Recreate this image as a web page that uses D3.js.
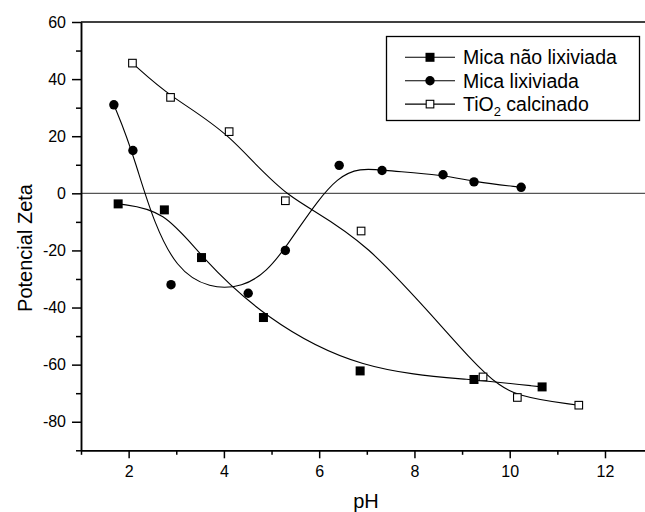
<!DOCTYPE html>
<html>
<head>
<meta charset="utf-8">
<script src="https://cdn.jsdelivr.net/npm/d3@7"></script>
<style>
  body { margin: 0; background: #fff; }
  text { font-family: "Liberation Sans", Arial, sans-serif; fill: #000; }
</style>
</head>
<body>
<div id="chart"></div>
<script>
// pH readings and zeta potential per sample
const naoLixPH   = [1.78, 2.75, 3.53, 4.83, 6.86, 9.25, 10.68];
const naoLixZeta = [-3.7, -5.8, -22.5, -43.5, -62.2, -65.2, -67.8];

const lixPH   = [1.69, 2.09, 2.89, 4.51, 5.29, 6.42, 7.32, 8.60, 9.25, 10.24];
const lixZeta = [31.0, 15.0, -32.0, -35.0, -20.0, 9.8, 8.0, 6.5, 4.0, 2.1];

const tioPH   = [2.08, 2.88, 4.11, 5.29, 6.88, 9.44, 10.16, 11.45];
const tioZeta = [45.6, 33.6, 21.6, -2.6, -13.2, -64.3, -71.5, -74.2];

const seriesNames = ["Mica não lixiviada", "Mica lixiviada", "TiO2 calcinado"];
const xMajor = [2, 4, 6, 8, 10, 12];
const xMinor = [1, 3, 5, 7, 9, 11];
const yMajor = [-80, -60, -40, -20, 0, 20, 40, 60];
const yMinor = [-90, -70, -50, -30, -10, 10, 30, 50];

const W = 645, H = 512;
const plotLeft = 81, plotTop = 22, plotBottom = 450.3;

const svg = d3.select("#chart").append("svg")
    .attr("width", W)
    .attr("height", H);

const x = d3.scaleLinear().domain([1, 12.84]).range([plotLeft, W]);
const y = d3.scaleLinear().domain([-90, 60]).range([plotBottom, plotTop]);

// zero line
svg.append("line")
    .attr("x1", plotLeft).attr("x2", W)
    .attr("y1", y(0)).attr("y2", y(0))
    .attr("stroke", "#555").attr("stroke-width", 1.2);

// top frame
svg.append("line")
    .attr("x1", plotLeft).attr("x2", W)
    .attr("y1", plotTop).attr("y2", plotTop)
    .attr("stroke", "#000").attr("stroke-width", 1.5);

function styleAxis(g) {
    g.select(".domain").attr("stroke-width", 1.5);
    g.selectAll(".tick line").attr("stroke-width", 1.5);
    g.selectAll(".tick text")
        .style("font-family", '"Liberation Sans", Arial, sans-serif')
        .style("font-size", "16px");
}

// plain hyphen for negatives, like the original
const fmt = d => String(d);

svg.append("g")
    .attr("transform", `translate(0,${plotBottom})`)
    .call(d3.axisBottom(x).tickValues(xMinor).tickFormat("").tickSize(4.5).tickSizeOuter(0))
    .call(styleAxis);
svg.append("g")
    .attr("transform", `translate(0,${plotBottom})`)
    .call(d3.axisBottom(x).tickValues(xMajor).tickFormat(fmt).tickSize(8).tickPadding(7).tickSizeOuter(0))
    .call(styleAxis);

svg.append("g")
    .attr("transform", `translate(${plotLeft},0)`)
    .call(d3.axisLeft(y).tickValues(yMinor).tickFormat("").tickSize(5).tickSizeOuter(0))
    .call(styleAxis);
svg.append("g")
    .attr("transform", `translate(${plotLeft},0)`)
    .call(d3.axisLeft(y).tickValues(yMajor).tickFormat(fmt).tickSize(9).tickPadding(6).tickSizeOuter(0))
    .call(styleAxis);

// axis titles
svg.append("text")
    .attr("x", 366).attr("y", 508)
    .attr("text-anchor", "middle")
    .style("font-size", "20px")
    .text("pH");

svg.append("text")
    .attr("transform", "translate(32,248) rotate(-90)")
    .attr("text-anchor", "middle")
    .style("font-size", "20px")
    .text("Potencial Zeta");

// curves
const line = d3.line()
    .x(d => x(d[0]))
    .y(d => y(d[1]))
    .curve(d3.curveBasis);

const naoLix = d3.zip(naoLixPH, naoLixZeta);
const lix = d3.zip(lixPH, lixZeta);
const tio = d3.zip(tioPH, tioZeta);

[naoLix, lix, tio].forEach(s => {
    svg.append("path")
        .attr("d", line(s))
        .attr("fill", "none")
        .attr("stroke", "#000")
        .attr("stroke-width", 1.1);
});

// markers
function drawMarker(g, kind, cx, cy) {
    if (kind === 0) {
        g.append("rect")
            .attr("x", cx - 4.5).attr("y", cy - 4.5)
            .attr("width", 9).attr("height", 9)
            .attr("fill", "#000");
    } else if (kind === 1) {
        g.append("circle")
            .attr("cx", cx).attr("cy", cy).attr("r", 4.7)
            .attr("fill", "#000");
    } else {
        g.append("rect")
            .attr("x", cx - 3.8).attr("y", cy - 3.8)
            .attr("width", 7.6).attr("height", 7.6)
            .attr("fill", "#fff").attr("stroke", "#000").attr("stroke-width", 1.1);
    }
}

const markers = svg.append("g");
[naoLix, lix, tio].forEach((s, i) => {
    s.forEach(d => drawMarker(markers, i, x(d[0]), y(d[1])));
});

// legend
const legend = svg.append("g");
legend.append("rect")
    .attr("x", 386.5).attr("y", 36.5)
    .attr("width", 253).attr("height", 84)
    .attr("fill", "#fff").attr("stroke", "#000").attr("stroke-width", 1.3);

seriesNames.forEach((name, i) => {
    const ry = 57.3 + i * 23.4;
    legend.append("line")
        .attr("x1", 405).attr("x2", 455)
        .attr("y1", ry).attr("y2", ry)
        .attr("stroke", "#000").attr("stroke-width", 1.1);
    drawMarker(legend, i, 430, ry);
    const t = legend.append("text")
        .attr("x", 463).attr("y", ry + 7)
        .style("font-size", "19.5px");
    if (i === 2) {
        t.append("tspan").text("TiO");
        t.append("tspan").attr("dy", 5).style("font-size", "13px").text("2");
        t.append("tspan").attr("dy", -5).text(" calcinado");
    } else {
        t.text(name);
    }
});
</script>
</body>
</html>
